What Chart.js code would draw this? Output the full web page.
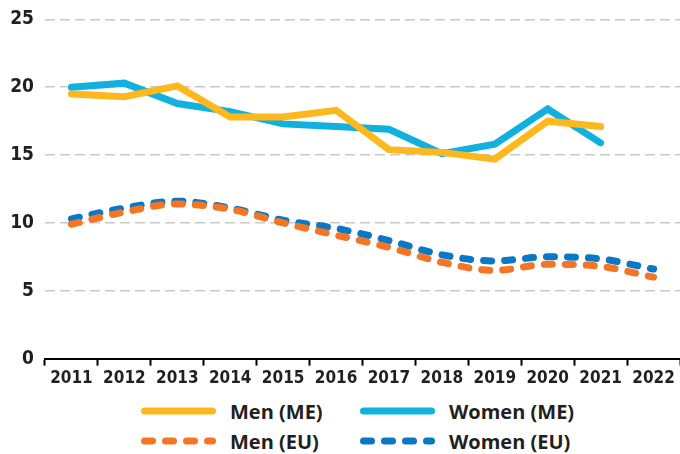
<!DOCTYPE html>
<html>
<head>
<meta charset="utf-8">
<script src="https://cdn.jsdelivr.net/npm/chart.js@4"></script>
<style>
  html, body { margin: 0; padding: 0; background: #fff; overflow: hidden; }
  #wrap { position: relative; width: 680px; height: 454px; overflow: hidden; }
  #chartBox { position: absolute; left: 0; top: -3px; width: 680px; height: 395px; }
  .legend-item { position: absolute; height: 24px; display: flex; align-items: center;
    font-family: 'Open Sans', 'Noto Sans', sans-serif; font-weight: 700; font-size: 20px; color: #231f20; }
  .legend-item svg { margin-right: 14px; }
</style>
</head>
<body>
<div id="wrap">
  <div id="chartBox"><canvas id="chart"></canvas></div>
  <div id="legend"></div>
</div>
<script>
// 数据
const years = ['2011', '2012', '2013', '2014', '2015', '2016', '2017', '2018', '2019', '2020', '2021', '2022'];
const menME   = [19.5, 19.3, 20.1, 17.8, 17.8, 18.3, 15.4, 15.2, 14.7, 17.5, 17.1, null];
const womenME = [20.0, 20.3, 18.8, 18.2, 17.3, 17.1, 16.9, 15.1, 15.8, 18.4, 15.9, null];
const menEU   = [9.9, 10.8, 11.4, 11.0, 10.0, 9.1, 8.2, 7.1, 6.5, 6.95, 6.8, 6.0];
const womenEU = [10.3, 11.1, 11.6, 11.1, 10.2, 9.6, 8.7, 7.65, 7.2, 7.5, 7.35, 6.6];
const yTicks  = [0, 5, 10, 15, 20, 25];

const COLORS = {
    menME: '#FDB81E',
    womenME: '#10B1DE',
    menEU: '#F47625',
    womenEU: '#0A78C4'
};

const EU_DASH = [8, 13];
const axisFont = "'DejaVu Sans Condensed', 'Liberation Sans Narrow', 'DejaVu Sans', sans-serif";

function solidSet(label, data, color) {
    return {
        label, data,
        borderColor: color, backgroundColor: color,
        borderWidth: 7, borderCapStyle: 'round', borderJoinStyle: 'miter',
        tension: 0, pointRadius: 0, fill: false
    };
}
function dashedSet(label, data, color) {
    return {
        label, data,
        borderColor: color, backgroundColor: color,
        borderWidth: 7, borderCapStyle: 'round', borderDash: EU_DASH,
        cubicInterpolationMode: 'monotone', tension: 0.4, pointRadius: 0, fill: false
    };
}

// 绘制顺序：EU 在下，ME 在上
const datasets = [
    dashedSet('Men (EU)', menEU, COLORS.menEU),
    dashedSet('Women (EU)', womenEU, COLORS.womenEU),
    solidSet('Men (ME)', menME, COLORS.menME),
    solidSet('Women (ME)', womenME, COLORS.womenME)
];

const ctx = document.getElementById('chart').getContext('2d');
new Chart(ctx, {
    type: 'line',
    data: { labels: years, datasets },
    options: {
        responsive: true,
        maintainAspectRatio: false,
        animation: false,
        layout: { padding: { top: 4, right: 0, left: 0, bottom: 0 } },
        plugins: { legend: { display: false }, tooltip: { enabled: false } },
        scales: {
            x: {
                offset: true,
                grid: { offset: true, drawOnChartArea: false, drawTicks: true, tickLength: 7, tickColor: '#000', tickWidth: 2 },
                border: { display: true, color: '#000', width: 2 },
                ticks: { color: '#231f20', padding: 3, maxRotation: 0, autoSkip: false,
                    font: { family: axisFont, weight: 'bold', size: 17 } }
            },
            y: {
                min: 0, max: 25,
                afterBuildTicks: scale => { scale.ticks = yTicks.map(v => ({ value: v })); },
                afterFit: scale => { scale.width = 45; },
                grid: {
                    drawTicks: false,
                    color: ctx => ctx.tick && ctx.tick.value === 0 ? 'rgba(0,0,0,0)' : '#c9c9c9',
                    lineWidth: 1.5
                },
                border: { display: false, dash: [10, 5] },
                ticks: { color: '#231f20', padding: 11,
                    font: { family: axisFont, weight: 'bold', size: 19 } }
            }
        }
    }
});

// HTML 图例
const legendItems = [
    { ds: datasets[2], left: 141, top: 399 },
    { ds: datasets[3], left: 360, top: 399 },
    { ds: datasets[0], left: 141, top: 429 },
    { ds: datasets[1], left: 360, top: 429 }
];
const legendEl = document.getElementById('legend');
legendItems.forEach(item => {
    const div = document.createElement('div');
    div.className = 'legend-item';
    div.style.left = item.left + 'px';
    div.style.top = item.top + 'px';
    const dash = item.ds.borderDash ? `stroke-dasharray="${item.ds.borderDash.join(' ')}"` : '';
    div.innerHTML = `<svg width="75" height="12"><line x1="3.5" y1="6" x2="71.5" y2="6" stroke="${item.ds.borderColor}" stroke-width="7" stroke-linecap="round" ${dash}/></svg><span>${item.ds.label}</span>`;
    legendEl.appendChild(div);
});
</script>
</body>
</html>
